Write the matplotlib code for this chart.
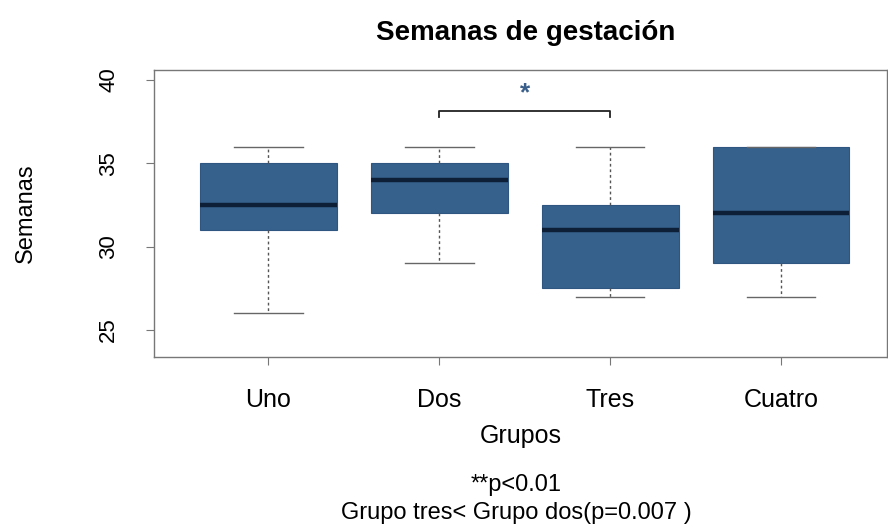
"""
Boxplot de semanas de gestación por grupo
"""
import matplotlib.pyplot as plt

grupos = ['Uno', 'Dos', 'Tres', 'Cuatro']
bigotes_inf = [26, 29, 27, 27]
q1 = [31, 32, 27.5, 29]
medianas = [32.5, 34, 31, 32]
q3 = [35, 35, 32.5, 36]
bigotes_sup = [36, 36, 36, 36]

# comparación significativa: Dos vs Tres
par_signif = (2, 3)
altura_barra = 38.15

plt.rcParams['font.family'] = ['Liberation Sans', 'DejaVu Sans']

fig = plt.figure(figsize=(8.88, 5.29), dpi=100)
ax = fig.add_axes([0.1734, 0.3251, 0.9989 - 0.1734, 0.8677 - 0.3251])

stats = []
for g, lo, a, m, b, hi in zip(grupos, bigotes_inf, q1, medianas, q3, bigotes_sup):
    stats.append({'label': g, 'whislo': lo, 'q1': a, 'med': m, 'q3': b, 'whishi': hi, 'fliers': []})

color_caja = '#36618d'
ax.bxp(stats, positions=range(1, len(grupos) + 1), widths=0.8, capwidths=0.4,
       patch_artist=True, showfliers=False,
       boxprops=dict(facecolor=color_caja, edgecolor='#2f5680', linewidth=0.8),
       medianprops=dict(color='#0c1f36', linewidth=3.2, solid_capstyle='butt'),
       whiskerprops=dict(color='#555555', linewidth=1.0, linestyle=(0, (2, 2))),
       capprops=dict(color='#666666', linewidth=1.0))

# barra de significancia
x1, x2 = par_signif
ax.plot([x1, x1, x2, x2], [altura_barra - 0.35, altura_barra, altura_barra, altura_barra - 0.35],
        color='#222222', linewidth=1.3)
ax.text((x1 + x2) / 2, altura_barra + 0.35, '*', ha='center', va='bottom',
        color='#3a5f8a', fontsize=19, fontweight='bold')

ax.set_xlim(0.33, 4.62)
ax.set_ylim(23.38, 40.6)
ax.set_yticks([25, 30, 35, 40])
ax.set_yticklabels(['25', '30', '35', '40'], rotation=90, va='center', fontsize=16)
ax.set_xticks(range(1, len(grupos) + 1))
ax.set_xticklabels(grupos, fontsize=18)
ax.tick_params(axis='x', length=6, color='#777777', pad=16)
ax.tick_params(axis='y', length=6, color='#777777', pad=19)
for s in ax.spines.values():
    s.set_color('#777777')
    s.set_linewidth(1.0)

ax.set_xlabel('Grupos', fontsize=18, labelpad=9)
ax.set_ylabel('Semanas', fontsize=17, labelpad=44)
fig.text(0.592, 0.937, 'Semanas de gestación', ha='center', va='center',
         fontsize=20, fontweight='bold')

fig.text(0.581, 0.083, '**p<0.01', ha='center', va='center', fontsize=17)
fig.text(0.581, 0.030, 'Grupo tres< Grupo dos(p=0.007 )', ha='center', va='center', fontsize=17)

plt.savefig('out.png', dpi=100)
plt.close()
